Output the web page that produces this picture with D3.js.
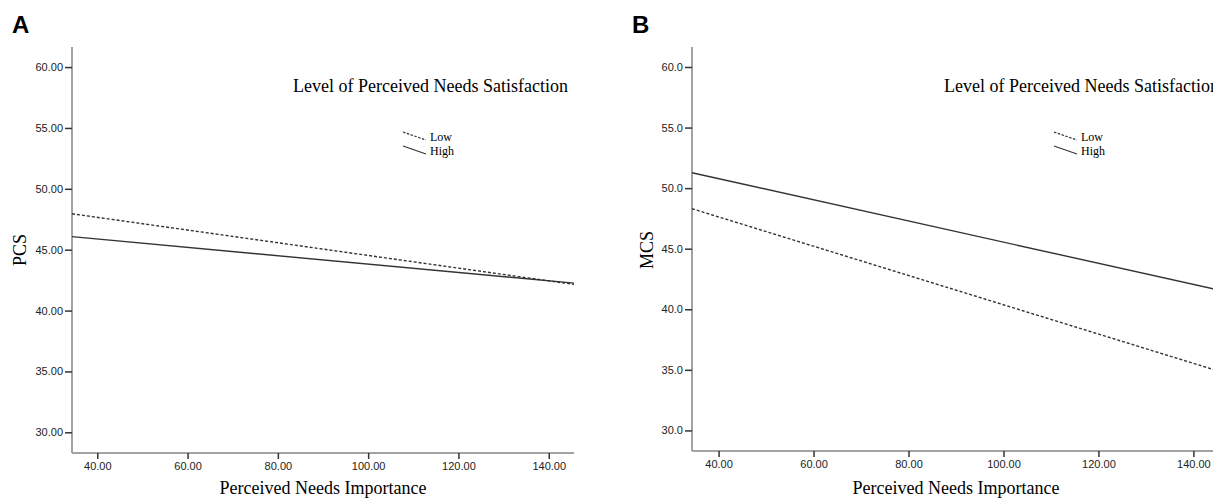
<!DOCTYPE html>
<html>
<head>
<meta charset="utf-8">
<script src="https://cdn.jsdelivr.net/npm/d3@7"></script>
<style>
  body { margin: 0; background: #fff; }
  svg { display: block; }
</style>
</head>
<body>
<div id="chart"></div>
<script>
// Data (line endpoints at both ends of the x range)
var xEnds = [34.4, 145.6];
var pcsLow = [47.95, 42.15];
var pcsHigh = [46.07, 42.25];
var mcsLow = [48.3, 34.86];
var mcsHigh = [51.27, 41.56];
var xTicks = [40, 60, 80, 100, 120, 140];
var yTicks = [30, 35, 40, 45, 50, 55, 60];
var groups = ["Low", "High"];

var svg = d3.select("#chart")
    .append("svg")
    .attr("width", 1213)
    .attr("height", 498);

function drawPanel(p) {
  var g = svg.append("g");

  // scales
  var x = d3.scaleLinear().domain([34.4, 145.6]).range([p.left, p.right]);
  var y = d3.scaleLinear().domain([28.3, 61.65]).range([p.bottom, 47]);

  // panel letter
  g.append("text")
      .attr("x", p.letterX)
      .attr("y", 33)
      .style("font-family", "Liberation Sans, Arial, sans-serif")
      .style("font-weight", "bold")
      .style("font-size", "24px")
      .text(p.letter);

  // Y axis
  var yAxis = g.append("g")
      .attr("transform", "translate(" + p.left + ",0)")
      .call(d3.axisLeft(y).tickValues(yTicks).tickFormat(d3.format(p.yFormat)).tickSize(7).tickPadding(2));

  // X axis
  var xAxis = g.append("g")
      .attr("transform", "translate(0," + p.bottom + ")")
      .call(d3.axisBottom(x).tickValues(xTicks).tickFormat(d3.format(".2f")).tickSize(6).tickPadding(3));

  [yAxis, xAxis].forEach(function (a) {
    a.select(".domain").attr("stroke", "#a3a3a3").attr("stroke-width", 2);
    a.selectAll(".tick line").attr("stroke", "#333").attr("stroke-width", 1.5);
    a.selectAll(".tick text")
        .style("font-family", "Liberation Sans, Arial, sans-serif")
        .style("font-size", "11px")
        .style("fill", "#222");
  });
  // no end ticks on the axis lines
  xAxis.select(".domain").attr("d", "M" + p.left + ",0H" + p.right);
  yAxis.select(".domain").attr("d", "M0," + p.bottom + "V47");

  // axis titles
  g.append("text")
      .attr("x", (p.left + p.right) / 2)
      .attr("y", 494)
      .attr("text-anchor", "middle")
      .style("font-family", "Liberation Serif, Times New Roman, serif")
      .style("font-size", "18px")
      .text("Perceived Needs Importance");

  g.append("text")
      .attr("transform", "translate(" + (p.yTitleX) + "," + 250 + ") rotate(-90)")
      .attr("text-anchor", "middle")
      .style("font-family", "Liberation Serif, Times New Roman, serif")
      .style("font-size", "18px")
      .text(p.yTitle);

  // lines
  var line = d3.line()
      .x(function (d) { return x(d[0]); })
      .y(function (d) { return y(d[1]); });

  var series = [p.low, p.high];
  series.forEach(function (vals, i) {
    g.append("path")
        .datum(xEnds.map(function (xv, j) { return [xv, vals[j]]; }))
        .attr("fill", "none")
        .attr("stroke", "#333")
        .attr("stroke-width", 1.4)
        .attr("stroke-dasharray", i === 0 ? "3,2" : null)
        .attr("d", line);
  });

  // legend
  g.append("text")
      .attr("x", p.legendX - 110)
      .attr("y", 92)
      .style("font-family", "Liberation Serif, Times New Roman, serif")
      .style("font-size", "18px")
      .text("Level of Perceived Needs Satisfaction");

  groups.forEach(function (name, i) {
    var ly = 132 + i * 14;
    g.append("line")
        .attr("x1", p.legendX).attr("y1", ly)
        .attr("x2", p.legendX + 23).attr("y2", ly + 8)
        .attr("stroke", "#333")
        .attr("stroke-width", 1.2)
        .attr("stroke-dasharray", i === 0 ? "2.5,1.5" : null);
    g.append("text")
        .attr("x", p.legendX + 27)
        .attr("y", ly + 9)
        .style("font-family", "Liberation Serif, Times New Roman, serif")
        .style("font-size", "12px")
        .text(name);
  });
}

drawPanel({ letter: "A", letterX: 12, left: 72, right: 574, bottom: 453,
  yFormat: ".2f", yTitle: "PCS", yTitleX: 26, low: pcsLow, high: pcsHigh, legendX: 403 });
drawPanel({ letter: "B", letterX: 632, left: 692, right: 1220, bottom: 451,
  yFormat: ".1f", yTitle: "MCS", yTitleX: 653, low: mcsLow, high: mcsHigh, legendX: 1054 });
</script>
</body>
</html>
